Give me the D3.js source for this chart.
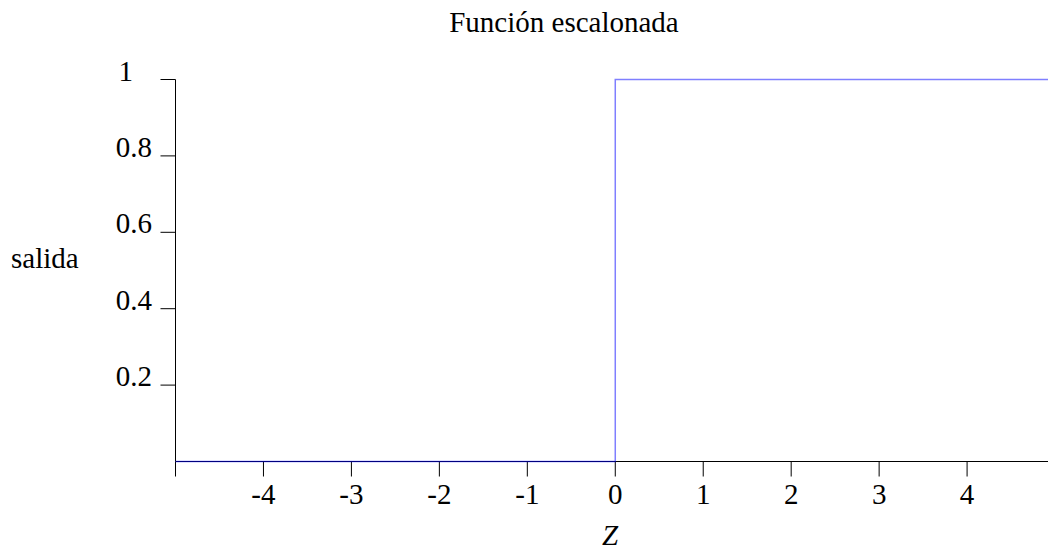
<!DOCTYPE html>
<html>
<head>
<meta charset="utf-8">
<script src="https://cdn.jsdelivr.net/npm/d3@7"></script>
<style>
  body { margin: 0; background: #fff; }
  text { font-family: "Liberation Serif", "DejaVu Serif", serif; fill: #000; }
</style>
</head>
<body>
<div id="chart"></div>
<script>
// data
var stepX = [-5, 0, 4.92];
var stepY = [0, 1, 1];
var xTicks = [-5, -4, -3, -2, -1, 0, 1, 2, 3, 4];
var xTickLabels = ["", "-4", "-3", "-2", "-1", "0", "1", "2", "3", "4"];
var yTicks = [0.2, 0.4, 0.6, 0.8, 1];
var yTickLabels = ["0.2", "0.4", "0.6", "0.8", "1"];

var W = 1048, H = 550;
var fs = 29;

var svg = d3.select("#chart").append("svg")
    .attr("width", W).attr("height", H);

// scales
var x = d3.scaleLinear().domain([-5, 4.92]).range([175.5, 1048]);
var y = d3.scaleLinear().domain([0, 1]).range([461.5, 79.5]);

// y axis
var yAxis = svg.append("g").attr("transform", "translate(175.5,0)");
yAxis.append("line")
    .attr("x1", 0).attr("x2", 0)
    .attr("y1", y(1)).attr("y2", y(0))
    .attr("stroke", "#000");
yTicks.forEach(function(v, i) {
  yAxis.append("line")
    .attr("x1", -15).attr("x2", 0)
    .attr("y1", y(v)).attr("y2", y(v))
    .attr("stroke", "#000");
  yAxis.append("text")
    .attr("x", yTickLabels[i] == "1" ? -42.5 : -23.5)
    .attr("y", y(v) + 1)
    .attr("text-anchor", "end")
    .style("font-size", fs + "px")
    .text(yTickLabels[i]);
});

// x axis
var xAxis = svg.append("g").attr("transform", "translate(0," + y(0) + ")");
xAxis.append("line")
    .attr("x1", x(-5)).attr("x2", W)
    .attr("y1", 0).attr("y2", 0)
    .attr("stroke", "#000");
xTicks.forEach(function(v, i) {
  xAxis.append("line")
    .attr("x1", x(v)).attr("x2", x(v))
    .attr("y1", 0).attr("y2", 15)
    .attr("stroke", "#000");
  xAxis.append("text")
    .attr("x", x(v))
    .attr("y", 42)
    .attr("text-anchor", "middle")
    .style("font-size", fs + "px")
    .text(xTickLabels[i]);
});

// step line
var line = d3.line()
    .x(function(d) { return x(d[0]); })
    .y(function(d) { return y(d[1]); })
    .curve(d3.curveStepAfter);
svg.append("path")
    .datum(d3.zip(stepX, stepY))
    .attr("d", line)
    .attr("fill", "none")
    .attr("stroke", "blue")
    .attr("stroke-opacity", 0.5)
    .attr("stroke-width", 1.5);

// labels
svg.append("text")
    .attr("x", 564).attr("y", 32)
    .attr("text-anchor", "middle")
    .style("font-size", fs + "px")
    .text("Función escalonada");
svg.append("text")
    .attr("x", 11).attr("y", 268)
    .style("font-size", fs + "px")
    .text("salida");
svg.append("text")
    .attr("x", 610).attr("y", 545)
    .attr("text-anchor", "middle")
    .style("font-size", fs + "px")
    .style("font-style", "italic")
    .text("Z");
</script>
</body>
</html>
